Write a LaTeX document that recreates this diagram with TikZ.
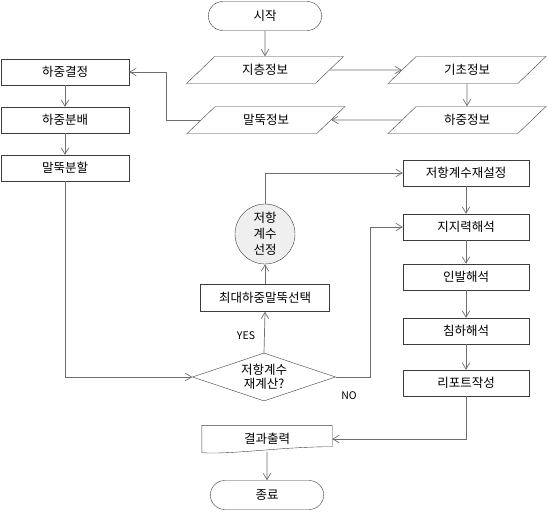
\documentclass[tikz,border=0pt]{standalone}
\usepackage{fontspec}
\setmainfont{Noto Sans CJK KR}
\usetikzlibrary{arrows.meta,shapes.geometric,shapes.misc}
\definecolor{cizgiGri}{HTML}{6E6E6E}
\definecolor{kenarKoyu}{HTML}{3C3C3C}
\definecolor{daireGri}{HTML}{EFEFEF}

\begin{document}
\begin{tikzpicture}[x=1pt,y=-1pt,
  every node/.style={font=\fontsize{12.5}{15}\selectfont},
  kutu/.style={draw=kenarKoyu,rectangle,minimum width=128pt,minimum height=26pt,inner sep=2pt},
  veri/.style={draw=kenarKoyu,trapezium,trapezium left angle=45,trapezium right angle=135,
               trapezium stretches=true,minimum width=158pt,minimum height=27pt,inner sep=1pt},
  uc/.style={draw=kenarKoyu,rounded rectangle,minimum width=120pt,minimum height=29pt},
  karar/.style={draw=kenarKoyu,diamond,aspect=3,minimum width=143pt,minimum height=48pt,
                inner sep=0pt,align=center,font=\fontsize{12.5}{14.5}\selectfont},
  daire/.style={draw=kenarKoyu,fill=daireGri,circle,minimum size=60pt,inner sep=0pt,
                align=center,font=\fontsize{12.5}{16}\selectfont},
  belge/.style={minimum width=130pt,minimum height=27pt,inner sep=2pt},
  etiket/.style={font=\fontsize{10.5}{12}\selectfont},
  ok/.style={-{Straight Barb[length=2.2mm,width=2.6mm]},cizgiGri,line width=0.7pt}]
\useasboundingbox (0,0) rectangle (548,511);
\node[uc] (basla) at (265,16) {시작};
\node[veri] (jc) at (265,70) {지층정보};
\node[veri] (gc) at (467,70) {기초정보};
\node[veri] (hj) at (467,120) {하중정보};
\node[veri] (mt) at (266,120) {말뚝정보};
\node[kutu] (hg) at (65,72) {하중결정};
\node[kutu] (hb) at (65,120) {하중분배};
\node[kutu] (mb) at (65,168) {말뚝분할};
\node[karar] (dia) at (264,377) {저항계수\\재계산?};
\node[kutu,minimum width=129pt,minimum height=27pt] (sel) at (265,298) {최대하중말뚝선택};
\node[daire] (sec) at (265,234) {저항\\계수\\선정};
\node[kutu,minimum width=126pt] (rs) at (466,173) {저항계수재설정};
\node[kutu,minimum width=126pt] (jj) at (466,227) {지지력해석};
\node[kutu,minimum width=126pt] (ib) at (466,277) {인발해석};
\node[kutu,minimum width=126pt] (ch) at (466,331) {침하해석};
\node[kutu,minimum width=126pt] (rp) at (466,383) {리포트작성};
\node[belge] (cikti) at (267,439) {결과출력};
\draw[kenarKoyu] (cikti.south west) -- (cikti.north west) -- (cikti.north east) -- ([yshift=6pt]cikti.south east)
  .. controls ([xshift=-50pt,yshift=6pt]cikti.south east) and ([xshift=30pt,yshift=-2pt]cikti.south west) .. (cikti.south west);
\node[uc] (bitir) at (267,495) {종료};
\node[etiket] (evet) at (246,336) {YES};
\node[etiket] (hayir) at (349,396) {NO};
\draw[ok] (basla) -- (jc);
\draw[ok] (jc) -- (gc);
\draw[ok] (gc) -- (hj);
\draw[ok] (hj) -- (mt);
\draw[ok] (mt.west) -- +(-34,0) |- (hg.east);
\draw[ok] (hg) -- (hb);
\draw[ok] (hb) -- (mb);
\draw[ok] (mb.south) |- (dia.west);
\draw[ok] (dia.north) -- (sel.south);
\draw[ok] (sel) -- (sec);
\draw[ok] (sec.north) |- (rs.west);
\draw[ok] (dia.east) -- +(35,0) |- (jj.west);
\draw[ok] (rs) -- (jj);
\draw[ok] (jj) -- (ib);
\draw[ok] (ib) -- (ch);
\draw[ok] (ch) -- (rp);
\draw[ok] (rp.south) |- (cikti.east);
\draw[ok] ([yshift=1pt]cikti.south) -- (bitir);
\end{tikzpicture}
\end{document}
